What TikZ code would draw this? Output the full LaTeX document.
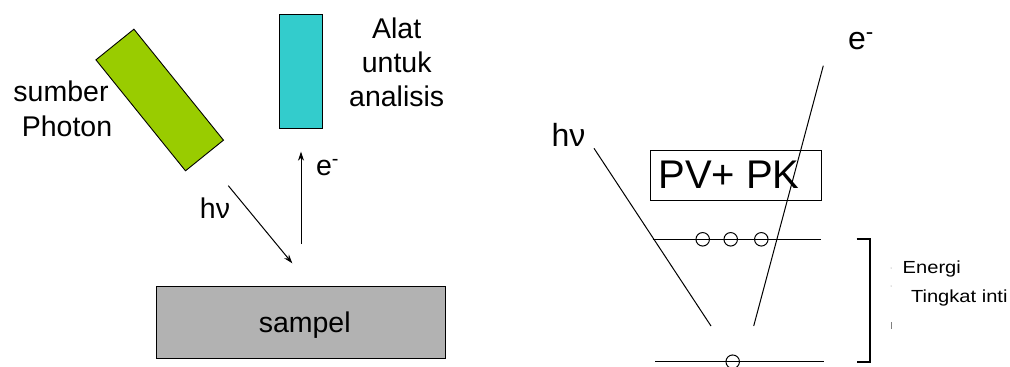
\documentclass[tikz,border=0pt]{standalone}
\usepackage{fontspec}
\setmainfont{Liberation Sans}
\usetikzlibrary{arrows.meta}
\definecolor{srcgreen}{RGB}{153,204,0}
\definecolor{detcyan}{RGB}{51,204,204}
\definecolor{samgray}{RGB}{178,178,178}
\begin{document}
\begin{tikzpicture}[x=1pt,y=-1pt,
  box/.style={draw=black, line width=0.9pt, inner sep=0pt, outer sep=0pt},
  lbl/.style={inner sep=0pt, outer sep=0pt, font=\fontsize{28.5}{34}\selectfont},
  biglbl/.style={inner sep=0pt, outer sep=0pt, font=\fontsize{32}{38}\selectfont},
  smalllbl/.style={inner sep=0pt, outer sep=0pt, font=\fontsize{17.5}{20}\selectfont},
  ray/.style={line width=1pt},
  arr/.style={ray, -{Stealth[length=9pt,width=6pt]}},
  level/.style={line width=1.1pt},
  elec/.style={draw=black, line width=1pt, circle, minimum size=13.5pt, inner sep=0pt}]
\useasboundingbox (0,0) rectangle (1010,367);
\clip (0,0) rectangle (1010,367);
\fill[white] (0,0) rectangle (1010,367);

% ---------- left panel ----------
\node[box, fill=srcgreen, minimum width=142.6pt, minimum height=48.8pt, rotate=-51.1] (src) at (159.7,100) {};
\node[box, fill=detcyan, minimum width=43pt, minimum height=114pt] (det) at (300.8,71.3) {};
\node[box, fill=samgray, minimum width=289.7pt, minimum height=71.6pt] (sam) at (300.85,322.5) {};
\node[lbl, anchor=base] (samtxt) at (304.7,332.3) {sampel};

\node[lbl, anchor=base] (alat1) at (396.7,38.3) {Alat};
\node[lbl, anchor=base] (alat2) at (396.7,72.5) {untuk};
\node[lbl, anchor=base] (alat3) at (396.7,106.7) {analisis};

\node[lbl, anchor=base] (sum1) at (61,101.7) {sumber};
\node[lbl, anchor=base] (sum2) at (67,136.7) {Photon};

\coordinate (hvA) at (228.3,185.7);
\coordinate (hvB) at (292.3,263.3);
\draw[arr] (hvA) -- (hvB);
\coordinate (eA) at (301,244);
\coordinate (eB) at (301,151.7);
\draw[arr] (eA) -- (eB);

\node[lbl, anchor=base] (hvl) at (215,218.3) {hν};
\node[lbl, anchor=base west] (el) at (316,175) {e\textsuperscript{-}};

% ---------- right panel ----------
\node[biglbl, anchor=base west] (hvr) at (551.7,146.7) {hν};
\node[biglbl, anchor=base west] (er) at (848,49) {e\textsuperscript{-}};

\node[box, minimum width=171.4pt, minimum height=49.3pt] (pv) at (736,175.35) {};
\node[inner sep=0pt, anchor=base, font=\fontsize{40}{46}\selectfont] (pvtxt) at (729,188.3) {PV+ PK};

\coordinate (up1) at (652.7,239.3);
\coordinate (up2) at (821,239.3);
\draw[level] (up1) -- (up2);
\node[elec] (c1) at (702.7,239.3) {};
\node[elec] (c2) at (730.7,239.3) {};
\node[elec] (c3) at (761.3,239.3) {};

\coordinate (lo1) at (655,361.7);
\coordinate (lo2) at (824.3,361.7);
\draw[level] (lo1) -- (lo2);
\node[elec] (c4) at (732.7,361.7) {};

\coordinate (rA) at (594,148.3);
\coordinate (rB) at (711,326);
\draw[ray] (rA) -- (rB);
\coordinate (sA) at (753.7,326);
\coordinate (sB) at (823.3,65.7);
\draw[ray] (sA) -- (sB);

\coordinate (br1) at (856.7,239.3);
\coordinate (br2) at (870,239.3);
\coordinate (br3) at (870,361.7);
\coordinate (br4) at (856.7,361.7);
\draw[line width=1.8pt] (br1) -- (br2) -- (br3) -- (br4);

\node[smalllbl, anchor=base west] (en1) at (902.7,273) {\scalebox{1.15}[1]{Energi}};
\node[smalllbl, anchor=base west] (en2) at (911,302) {\scalebox{1.15}[1]{Tingkat inti}};

\coordinate (m1) at (891,268);
\coordinate (m2) at (891,286);
\coordinate (m3a) at (891,322);
\coordinate (m3b) at (891,329);
\fill[gray] (m1) circle (0.5pt);
\fill[gray] (m2) circle (0.5pt);
\draw[gray, line width=0.6pt] (m3a) -- (m3b);
\end{tikzpicture}
\end{document}
